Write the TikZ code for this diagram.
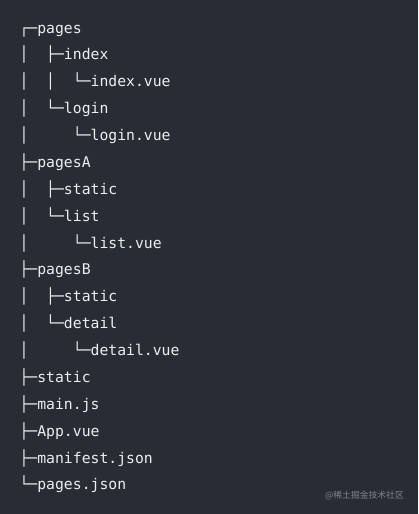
\documentclass[tikz,border=0pt]{standalone}
\usepackage{fontspec}
\setmonofont{DejaVu Sans Mono}
\newfontfamily\cjk{Noto Sans CJK SC}
\definecolor{bg}{HTML}{282C34}
\definecolor{fg}{HTML}{ECEEF0}
\definecolor{wm}{HTML}{80848C}
\begin{document}
\begin{tikzpicture}[x=1pt,y=-1pt,
  treeline/.style={anchor=base west, text=fg, inner sep=0pt,
    font=\ttfamily\fontsize{14.75}{17}\selectfont},
  mark wm/.style={anchor=base east, text=wm, inner sep=0pt,
    font=\cjk\fontsize{8.8}{10}\selectfont}]
\fill[bg] (0,0) rectangle (418,514);
\useasboundingbox (0,0) rectangle (418,514);
\def\lx{19.4}
\node[treeline] (l1)  at (\lx,33.00)  {┌─pages};
\node[treeline] (l2)  at (\lx,59.88)  {│~~├─index};
\node[treeline] (l3)  at (\lx,86.76)  {│~~│~~└─index.vue};
\node[treeline] (l4)  at (\lx,113.64) {│~~└─login};
\node[treeline] (l5)  at (\lx,140.52) {│~~~~~└─login.vue};
\node[treeline] (l6)  at (\lx,167.40) {├─pagesA};
\node[treeline] (l7)  at (\lx,194.28) {│~~├─static};
\node[treeline] (l8)  at (\lx,221.16) {│~~└─list};
\node[treeline] (l9)  at (\lx,248.04) {│~~~~~└─list.vue};
\node[treeline] (l10) at (\lx,274.92) {├─pagesB};
\node[treeline] (l11) at (\lx,301.80) {│~~├─static};
\node[treeline] (l12) at (\lx,328.68) {│~~└─detail};
\node[treeline] (l13) at (\lx,355.56) {│~~~~~└─detail.vue};
\node[treeline] (l14) at (\lx,382.44) {├─static};
\node[treeline] (l15) at (\lx,409.32) {├─main.js};
\node[treeline] (l16) at (\lx,436.20) {├─App.vue};
\node[treeline] (l17) at (\lx,463.08) {├─manifest.json};
\node[treeline] (l18) at (\lx,489.96) {└─pages.json};
\node[mark wm] (wmk) at (404,498) {@稀土掘金技术社区};
\end{tikzpicture}
\end{document}
